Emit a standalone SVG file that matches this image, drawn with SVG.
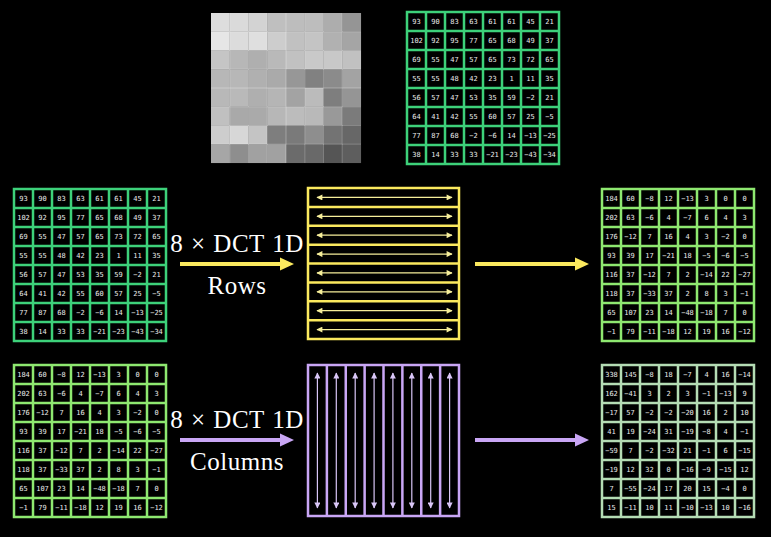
<svg xmlns="http://www.w3.org/2000/svg" xmlns:xlink="http://www.w3.org/1999/xlink" width="771" height="537" viewBox="0 0 771 537">
<style>
.n{font-family:"DejaVu Sans Mono",monospace;font-size:7px;fill:#ececec;text-anchor:middle}
.lbl{font-family:"Liberation Serif","Times New Roman",serif;font-size:25px;fill:#ffffff;text-anchor:middle;letter-spacing:0.5px}
.ya{stroke:#f6ee9a;stroke-width:1.2;fill:none;marker-start:url(#yh);marker-end:url(#yh)}
.pa{stroke:#d9c6f7;stroke-width:1.2;fill:none;marker-start:url(#ph);marker-end:url(#ph)}
</style>
<defs>
<path id="grid" fill="none" d="M0,0H152V152H0Z M19,0V152 M38,0V152 M57,0V152 M76,0V152 M95,0V152 M114,0V152 M133,0V152 M0,19H152 M0,38H152 M0,57H152 M0,76H152 M0,95H152 M0,114H152 M0,133H152"/>
<marker id="yh" viewBox="0 0 10 10" refX="9" refY="5" markerWidth="7" markerHeight="6" orient="auto-start-reverse" markerUnits="userSpaceOnUse"><path d="M0,0L10,5L0,10Z" fill="#f6ee9a"/></marker>
<marker id="ph" viewBox="0 0 10 10" refX="9" refY="5" markerWidth="7" markerHeight="6" orient="auto-start-reverse" markerUnits="userSpaceOnUse"><path d="M0,0L10,5L0,10Z" fill="#d9c6f7"/></marker>
</defs>
<rect width="771" height="537" fill="#000"/>

<g id="image" transform="translate(211,13)">
<rect x="0" y="0" width="18.8" height="18.8" fill="#dddddd"/><rect x="18.75" y="0" width="18.8" height="18.8" fill="#dadada"/><rect x="37.5" y="0" width="18.8" height="18.8" fill="#d3d3d3"/><rect x="56.25" y="0" width="18.8" height="18.8" fill="#bfbfbf"/><rect x="75" y="0" width="18.8" height="18.8" fill="#bdbdbd"/><rect x="93.75" y="0" width="18.8" height="18.8" fill="#bdbdbd"/><rect x="112.5" y="0" width="18.8" height="18.8" fill="#adadad"/><rect x="131.25" y="0" width="18.8" height="18.8" fill="#959595"/>
<rect x="0" y="18.75" width="18.8" height="18.8" fill="#e6e6e6"/><rect x="18.75" y="18.75" width="18.8" height="18.8" fill="#dcdcdc"/><rect x="37.5" y="18.75" width="18.8" height="18.8" fill="#dfdfdf"/><rect x="56.25" y="18.75" width="18.8" height="18.8" fill="#cdcdcd"/><rect x="75" y="18.75" width="18.8" height="18.8" fill="#c1c1c1"/><rect x="93.75" y="18.75" width="18.8" height="18.8" fill="#c4c4c4"/><rect x="112.5" y="18.75" width="18.8" height="18.8" fill="#b1b1b1"/><rect x="131.25" y="18.75" width="18.8" height="18.8" fill="#a5a5a5"/>
<rect x="0" y="37.5" width="18.8" height="18.8" fill="#c5c5c5"/><rect x="18.75" y="37.5" width="18.8" height="18.8" fill="#b7b7b7"/><rect x="37.5" y="37.5" width="18.8" height="18.8" fill="#afafaf"/><rect x="56.25" y="37.5" width="18.8" height="18.8" fill="#b9b9b9"/><rect x="75" y="37.5" width="18.8" height="18.8" fill="#c1c1c1"/><rect x="93.75" y="37.5" width="18.8" height="18.8" fill="#c9c9c9"/><rect x="112.5" y="37.5" width="18.8" height="18.8" fill="#c8c8c8"/><rect x="131.25" y="37.5" width="18.8" height="18.8" fill="#c1c1c1"/>
<rect x="0" y="56.25" width="18.8" height="18.8" fill="#b7b7b7"/><rect x="18.75" y="56.25" width="18.8" height="18.8" fill="#b7b7b7"/><rect x="37.5" y="56.25" width="18.8" height="18.8" fill="#b0b0b0"/><rect x="56.25" y="56.25" width="18.8" height="18.8" fill="#aaaaaa"/><rect x="75" y="56.25" width="18.8" height="18.8" fill="#979797"/><rect x="93.75" y="56.25" width="18.8" height="18.8" fill="#818181"/><rect x="112.5" y="56.25" width="18.8" height="18.8" fill="#8b8b8b"/><rect x="131.25" y="56.25" width="18.8" height="18.8" fill="#a3a3a3"/>
<rect x="0" y="75" width="18.8" height="18.8" fill="#b8b8b8"/><rect x="18.75" y="75" width="18.8" height="18.8" fill="#b9b9b9"/><rect x="37.5" y="75" width="18.8" height="18.8" fill="#afafaf"/><rect x="56.25" y="75" width="18.8" height="18.8" fill="#b5b5b5"/><rect x="75" y="75" width="18.8" height="18.8" fill="#a3a3a3"/><rect x="93.75" y="75" width="18.8" height="18.8" fill="#bbbbbb"/><rect x="112.5" y="75" width="18.8" height="18.8" fill="#7e7e7e"/><rect x="131.25" y="75" width="18.8" height="18.8" fill="#959595"/>
<rect x="0" y="93.75" width="18.8" height="18.8" fill="#c0c0c0"/><rect x="18.75" y="93.75" width="18.8" height="18.8" fill="#a9a9a9"/><rect x="37.5" y="93.75" width="18.8" height="18.8" fill="#aaaaaa"/><rect x="56.25" y="93.75" width="18.8" height="18.8" fill="#b7b7b7"/><rect x="75" y="93.75" width="18.8" height="18.8" fill="#bcbcbc"/><rect x="93.75" y="93.75" width="18.8" height="18.8" fill="#b9b9b9"/><rect x="112.5" y="93.75" width="18.8" height="18.8" fill="#999999"/><rect x="131.25" y="93.75" width="18.8" height="18.8" fill="#7b7b7b"/>
<rect x="0" y="112.5" width="18.8" height="18.8" fill="#cdcdcd"/><rect x="18.75" y="112.5" width="18.8" height="18.8" fill="#d7d7d7"/><rect x="37.5" y="112.5" width="18.8" height="18.8" fill="#c4c4c4"/><rect x="56.25" y="112.5" width="18.8" height="18.8" fill="#7e7e7e"/><rect x="75" y="112.5" width="18.8" height="18.8" fill="#7a7a7a"/><rect x="93.75" y="112.5" width="18.8" height="18.8" fill="#8e8e8e"/><rect x="112.5" y="112.5" width="18.8" height="18.8" fill="#737373"/><rect x="131.25" y="112.5" width="18.8" height="18.8" fill="#676767"/>
<rect x="0" y="131.25" width="18.8" height="18.8" fill="#a6a6a6"/><rect x="18.75" y="131.25" width="18.8" height="18.8" fill="#8e8e8e"/><rect x="37.5" y="131.25" width="18.8" height="18.8" fill="#a1a1a1"/><rect x="56.25" y="131.25" width="18.8" height="18.8" fill="#a1a1a1"/><rect x="75" y="131.25" width="18.8" height="18.8" fill="#6b6b6b"/><rect x="93.75" y="131.25" width="18.8" height="18.8" fill="#696969"/><rect x="112.5" y="131.25" width="18.8" height="18.8" fill="#555555"/><rect x="131.25" y="131.25" width="18.8" height="18.8" fill="#5e5e5e"/>
<path fill="none" stroke="#ffffff" stroke-opacity="0.3" stroke-width="1" d="M18.75,0V150 M37.5,0V150 M56.25,0V150 M75,0V150 M93.75,0V150 M112.5,0V150 M131.25,0V150 M0,18.75H150 M0,37.5H150 M0,56.25H150 M0,75H150 M0,93.75H150 M0,112.5H150 M0,131.25H150"/>
</g>

<g id="pixels-top" transform="translate(407,12)">
<use href="#grid" stroke="#3dd17a" stroke-width="2.5"/>
<text class="n" y="12"><tspan x="9.5">93</tspan><tspan x="28.5">90</tspan><tspan x="47.5">83</tspan><tspan x="66.5">63</tspan><tspan x="85.5">61</tspan><tspan x="104.5">61</tspan><tspan x="123.5">45</tspan><tspan x="142.5">21</tspan></text>
<text class="n" y="31"><tspan x="9.5">102</tspan><tspan x="28.5">92</tspan><tspan x="47.5">95</tspan><tspan x="66.5">77</tspan><tspan x="85.5">65</tspan><tspan x="104.5">68</tspan><tspan x="123.5">49</tspan><tspan x="142.5">37</tspan></text>
<text class="n" y="50"><tspan x="9.5">69</tspan><tspan x="28.5">55</tspan><tspan x="47.5">47</tspan><tspan x="66.5">57</tspan><tspan x="85.5">65</tspan><tspan x="104.5">73</tspan><tspan x="123.5">72</tspan><tspan x="142.5">65</tspan></text>
<text class="n" y="69"><tspan x="9.5">55</tspan><tspan x="28.5">55</tspan><tspan x="47.5">48</tspan><tspan x="66.5">42</tspan><tspan x="85.5">23</tspan><tspan x="104.5">1</tspan><tspan x="123.5">11</tspan><tspan x="142.5">35</tspan></text>
<text class="n" y="88"><tspan x="9.5">56</tspan><tspan x="28.5">57</tspan><tspan x="47.5">47</tspan><tspan x="66.5">53</tspan><tspan x="85.5">35</tspan><tspan x="104.5">59</tspan><tspan x="123.5">−2</tspan><tspan x="142.5">21</tspan></text>
<text class="n" y="107"><tspan x="9.5">64</tspan><tspan x="28.5">41</tspan><tspan x="47.5">42</tspan><tspan x="66.5">55</tspan><tspan x="85.5">60</tspan><tspan x="104.5">57</tspan><tspan x="123.5">25</tspan><tspan x="142.5">−5</tspan></text>
<text class="n" y="126"><tspan x="9.5">77</tspan><tspan x="28.5">87</tspan><tspan x="47.5">68</tspan><tspan x="66.5">−2</tspan><tspan x="85.5">−6</tspan><tspan x="104.5">14</tspan><tspan x="123.5">−13</tspan><tspan x="142.5">−25</tspan></text>
<text class="n" y="145"><tspan x="9.5">38</tspan><tspan x="28.5">14</tspan><tspan x="47.5">33</tspan><tspan x="66.5">33</tspan><tspan x="85.5">−21</tspan><tspan x="104.5">−23</tspan><tspan x="123.5">−43</tspan><tspan x="142.5">−34</tspan></text>
</g>

<g id="pixels-rows" transform="translate(14,189)">
<use href="#grid" stroke="#3dd17a" stroke-width="2.5"/>
<text class="n" y="12"><tspan x="9.5">93</tspan><tspan x="28.5">90</tspan><tspan x="47.5">83</tspan><tspan x="66.5">63</tspan><tspan x="85.5">61</tspan><tspan x="104.5">61</tspan><tspan x="123.5">45</tspan><tspan x="142.5">21</tspan></text>
<text class="n" y="31"><tspan x="9.5">102</tspan><tspan x="28.5">92</tspan><tspan x="47.5">95</tspan><tspan x="66.5">77</tspan><tspan x="85.5">65</tspan><tspan x="104.5">68</tspan><tspan x="123.5">49</tspan><tspan x="142.5">37</tspan></text>
<text class="n" y="50"><tspan x="9.5">69</tspan><tspan x="28.5">55</tspan><tspan x="47.5">47</tspan><tspan x="66.5">57</tspan><tspan x="85.5">65</tspan><tspan x="104.5">73</tspan><tspan x="123.5">72</tspan><tspan x="142.5">65</tspan></text>
<text class="n" y="69"><tspan x="9.5">55</tspan><tspan x="28.5">55</tspan><tspan x="47.5">48</tspan><tspan x="66.5">42</tspan><tspan x="85.5">23</tspan><tspan x="104.5">1</tspan><tspan x="123.5">11</tspan><tspan x="142.5">35</tspan></text>
<text class="n" y="88"><tspan x="9.5">56</tspan><tspan x="28.5">57</tspan><tspan x="47.5">47</tspan><tspan x="66.5">53</tspan><tspan x="85.5">35</tspan><tspan x="104.5">59</tspan><tspan x="123.5">−2</tspan><tspan x="142.5">21</tspan></text>
<text class="n" y="107"><tspan x="9.5">64</tspan><tspan x="28.5">41</tspan><tspan x="47.5">42</tspan><tspan x="66.5">55</tspan><tspan x="85.5">60</tspan><tspan x="104.5">57</tspan><tspan x="123.5">25</tspan><tspan x="142.5">−5</tspan></text>
<text class="n" y="126"><tspan x="9.5">77</tspan><tspan x="28.5">87</tspan><tspan x="47.5">68</tspan><tspan x="66.5">−2</tspan><tspan x="85.5">−6</tspan><tspan x="104.5">14</tspan><tspan x="123.5">−13</tspan><tspan x="142.5">−25</tspan></text>
<text class="n" y="145"><tspan x="9.5">38</tspan><tspan x="28.5">14</tspan><tspan x="47.5">33</tspan><tspan x="66.5">33</tspan><tspan x="85.5">−21</tspan><tspan x="104.5">−23</tspan><tspan x="123.5">−43</tspan><tspan x="142.5">−34</tspan></text>
</g>

<g id="row-dct" transform="translate(308,188)">
<rect x="0" y="0" width="151" height="151" fill="none" stroke="#fbe95e" stroke-width="2.5"/>
<path fill="none" stroke="#fbe95e" stroke-width="2.5" d="M0,18.875H151 M0,37.75H151 M0,56.625H151 M0,75.5H151 M0,94.375H151 M0,113.25H151 M0,132.125H151"/>
<path class="ya" d="M9,9.4H144"/><path class="ya" d="M9,28.3H144"/><path class="ya" d="M9,47.2H144"/><path class="ya" d="M9,66.1H144"/><path class="ya" d="M9,84.9H144"/><path class="ya" d="M9,103.8H144"/><path class="ya" d="M9,122.7H144"/><path class="ya" d="M9,141.6H144"/>
</g>

<g id="dct-rows" transform="translate(602,189)">
<use href="#grid" stroke="#8ee870" stroke-width="2.5"/>
<text class="n" y="12"><tspan x="9.5">184</tspan><tspan x="28.5">60</tspan><tspan x="47.5">−8</tspan><tspan x="66.5">12</tspan><tspan x="85.5">−13</tspan><tspan x="104.5">3</tspan><tspan x="123.5">0</tspan><tspan x="142.5">0</tspan></text>
<text class="n" y="31"><tspan x="9.5">202</tspan><tspan x="28.5">63</tspan><tspan x="47.5">−6</tspan><tspan x="66.5">4</tspan><tspan x="85.5">−7</tspan><tspan x="104.5">6</tspan><tspan x="123.5">4</tspan><tspan x="142.5">3</tspan></text>
<text class="n" y="50"><tspan x="9.5">176</tspan><tspan x="28.5">−12</tspan><tspan x="47.5">7</tspan><tspan x="66.5">16</tspan><tspan x="85.5">4</tspan><tspan x="104.5">3</tspan><tspan x="123.5">−2</tspan><tspan x="142.5">0</tspan></text>
<text class="n" y="69"><tspan x="9.5">93</tspan><tspan x="28.5">39</tspan><tspan x="47.5">17</tspan><tspan x="66.5">−21</tspan><tspan x="85.5">18</tspan><tspan x="104.5">−5</tspan><tspan x="123.5">−6</tspan><tspan x="142.5">−5</tspan></text>
<text class="n" y="88"><tspan x="9.5">116</tspan><tspan x="28.5">37</tspan><tspan x="47.5">−12</tspan><tspan x="66.5">7</tspan><tspan x="85.5">2</tspan><tspan x="104.5">−14</tspan><tspan x="123.5">22</tspan><tspan x="142.5">−27</tspan></text>
<text class="n" y="107"><tspan x="9.5">118</tspan><tspan x="28.5">37</tspan><tspan x="47.5">−33</tspan><tspan x="66.5">37</tspan><tspan x="85.5">2</tspan><tspan x="104.5">8</tspan><tspan x="123.5">3</tspan><tspan x="142.5">−1</tspan></text>
<text class="n" y="126"><tspan x="9.5">65</tspan><tspan x="28.5">107</tspan><tspan x="47.5">23</tspan><tspan x="66.5">14</tspan><tspan x="85.5">−48</tspan><tspan x="104.5">−18</tspan><tspan x="123.5">7</tspan><tspan x="142.5">0</tspan></text>
<text class="n" y="145"><tspan x="9.5">−1</tspan><tspan x="28.5">79</tspan><tspan x="47.5">−11</tspan><tspan x="66.5">−18</tspan><tspan x="85.5">12</tspan><tspan x="104.5">19</tspan><tspan x="123.5">16</tspan><tspan x="142.5">−12</tspan></text>
</g>

<g id="dct-rows-in" transform="translate(14,365)">
<use href="#grid" stroke="#8ee870" stroke-width="2.5"/>
<text class="n" y="12"><tspan x="9.5">184</tspan><tspan x="28.5">60</tspan><tspan x="47.5">−8</tspan><tspan x="66.5">12</tspan><tspan x="85.5">−13</tspan><tspan x="104.5">3</tspan><tspan x="123.5">0</tspan><tspan x="142.5">0</tspan></text>
<text class="n" y="31"><tspan x="9.5">202</tspan><tspan x="28.5">63</tspan><tspan x="47.5">−6</tspan><tspan x="66.5">4</tspan><tspan x="85.5">−7</tspan><tspan x="104.5">6</tspan><tspan x="123.5">4</tspan><tspan x="142.5">3</tspan></text>
<text class="n" y="50"><tspan x="9.5">176</tspan><tspan x="28.5">−12</tspan><tspan x="47.5">7</tspan><tspan x="66.5">16</tspan><tspan x="85.5">4</tspan><tspan x="104.5">3</tspan><tspan x="123.5">−2</tspan><tspan x="142.5">0</tspan></text>
<text class="n" y="69"><tspan x="9.5">93</tspan><tspan x="28.5">39</tspan><tspan x="47.5">17</tspan><tspan x="66.5">−21</tspan><tspan x="85.5">18</tspan><tspan x="104.5">−5</tspan><tspan x="123.5">−6</tspan><tspan x="142.5">−5</tspan></text>
<text class="n" y="88"><tspan x="9.5">116</tspan><tspan x="28.5">37</tspan><tspan x="47.5">−12</tspan><tspan x="66.5">7</tspan><tspan x="85.5">2</tspan><tspan x="104.5">−14</tspan><tspan x="123.5">22</tspan><tspan x="142.5">−27</tspan></text>
<text class="n" y="107"><tspan x="9.5">118</tspan><tspan x="28.5">37</tspan><tspan x="47.5">−33</tspan><tspan x="66.5">37</tspan><tspan x="85.5">2</tspan><tspan x="104.5">8</tspan><tspan x="123.5">3</tspan><tspan x="142.5">−1</tspan></text>
<text class="n" y="126"><tspan x="9.5">65</tspan><tspan x="28.5">107</tspan><tspan x="47.5">23</tspan><tspan x="66.5">14</tspan><tspan x="85.5">−48</tspan><tspan x="104.5">−18</tspan><tspan x="123.5">7</tspan><tspan x="142.5">0</tspan></text>
<text class="n" y="145"><tspan x="9.5">−1</tspan><tspan x="28.5">79</tspan><tspan x="47.5">−11</tspan><tspan x="66.5">−18</tspan><tspan x="85.5">12</tspan><tspan x="104.5">19</tspan><tspan x="123.5">16</tspan><tspan x="142.5">−12</tspan></text>
</g>

<g id="col-dct" transform="translate(308,365)">
<rect x="0" y="0" width="151" height="151" fill="none" stroke="#c9a6f5" stroke-width="2.5"/>
<path fill="none" stroke="#c9a6f5" stroke-width="2.5" d="M18.875,0V151 M37.75,0V151 M56.625,0V151 M75.5,0V151 M94.375,0V151 M113.25,0V151 M132.125,0V151"/>
<path class="pa" d="M9.4,8V143"/><path class="pa" d="M28.3,8V143"/><path class="pa" d="M47.2,8V143"/><path class="pa" d="M66.1,8V143"/><path class="pa" d="M84.9,8V143"/><path class="pa" d="M103.8,8V143"/><path class="pa" d="M122.7,8V143"/><path class="pa" d="M141.6,8V143"/>
</g>

<g id="dct-2d" transform="translate(602,365)">
<use href="#grid" stroke="#b4dcb4" stroke-width="2.5"/>
<text class="n" y="12"><tspan x="9.5">338</tspan><tspan x="28.5">145</tspan><tspan x="47.5">−8</tspan><tspan x="66.5">18</tspan><tspan x="85.5">−7</tspan><tspan x="104.5">4</tspan><tspan x="123.5">16</tspan><tspan x="142.5">−14</tspan></text>
<text class="n" y="31"><tspan x="9.5">162</tspan><tspan x="28.5">−41</tspan><tspan x="47.5">3</tspan><tspan x="66.5">2</tspan><tspan x="85.5">3</tspan><tspan x="104.5">−1</tspan><tspan x="123.5">−13</tspan><tspan x="142.5">9</tspan></text>
<text class="n" y="50"><tspan x="9.5">−17</tspan><tspan x="28.5">57</tspan><tspan x="47.5">−2</tspan><tspan x="66.5">−2</tspan><tspan x="85.5">−20</tspan><tspan x="104.5">16</tspan><tspan x="123.5">2</tspan><tspan x="142.5">10</tspan></text>
<text class="n" y="69"><tspan x="9.5">41</tspan><tspan x="28.5">19</tspan><tspan x="47.5">−24</tspan><tspan x="66.5">31</tspan><tspan x="85.5">−19</tspan><tspan x="104.5">−8</tspan><tspan x="123.5">4</tspan><tspan x="142.5">−1</tspan></text>
<text class="n" y="88"><tspan x="9.5">−59</tspan><tspan x="28.5">7</tspan><tspan x="47.5">−2</tspan><tspan x="66.5">−32</tspan><tspan x="85.5">21</tspan><tspan x="104.5">−1</tspan><tspan x="123.5">6</tspan><tspan x="142.5">−15</tspan></text>
<text class="n" y="107"><tspan x="9.5">−19</tspan><tspan x="28.5">12</tspan><tspan x="47.5">32</tspan><tspan x="66.5">0</tspan><tspan x="85.5">−16</tspan><tspan x="104.5">−9</tspan><tspan x="123.5">−15</tspan><tspan x="142.5">12</tspan></text>
<text class="n" y="126"><tspan x="9.5">7</tspan><tspan x="28.5">−55</tspan><tspan x="47.5">−24</tspan><tspan x="66.5">17</tspan><tspan x="85.5">20</tspan><tspan x="104.5">15</tspan><tspan x="123.5">−4</tspan><tspan x="142.5">0</tspan></text>
<text class="n" y="145"><tspan x="9.5">15</tspan><tspan x="28.5">−11</tspan><tspan x="47.5">10</tspan><tspan x="66.5">11</tspan><tspan x="85.5">−10</tspan><tspan x="104.5">−13</tspan><tspan x="123.5">10</tspan><tspan x="142.5">−16</tspan></text>
</g>

<g id="connectors">
<path d="M180,264H282" stroke="#fbe95e" stroke-width="4"/>
<path d="M280,257.5L294,264L280,270.5Z" fill="#fbe95e"/>
<path d="M475,264H577" stroke="#fbe95e" stroke-width="4"/>
<path d="M575,257.5L589,264L575,270.5Z" fill="#fbe95e"/>
<path d="M180,440H282" stroke="#c9a6f5" stroke-width="4"/>
<path d="M280,433.5L294,440L280,446.5Z" fill="#c9a6f5"/>
<path d="M475,440H577" stroke="#c9a6f5" stroke-width="4"/>
<path d="M575,433.5L589,440L575,446.5Z" fill="#c9a6f5"/>
<text class="lbl" x="237" y="252" word-spacing="1">8 × DCT 1D</text>
<text class="lbl" x="237" y="294">Rows</text>
<text class="lbl" x="237" y="428" word-spacing="1">8 × DCT 1D</text>
<text class="lbl" x="237" y="470">Columns</text>
</g>
</svg>
